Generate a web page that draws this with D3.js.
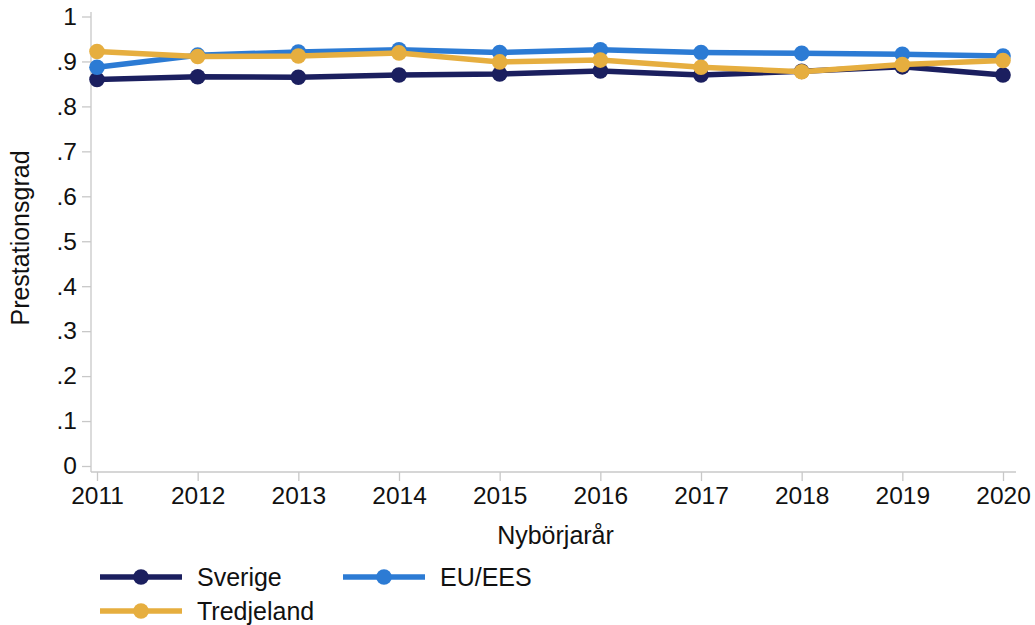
<!DOCTYPE html>
<html>
<head>
<meta charset="utf-8">
<script src="https://cdn.jsdelivr.net/npm/d3@7"></script>
<style>
    body { margin: 0; background: #fff; }
    text { font-family: "Liberation Sans", Arial, sans-serif; fill: #111; }
    .axis path, .axis line { stroke: #c8c8c8; stroke-width: 1.3; }
    .axis text { font-size: 24.5px; }
    .axisLabel { font-size: 25px; }
    .legendLabel { font-size: 25px; }
</style>
</head>
<body>
<div id="chart"></div>
<script>
//chart data
const years = [2011, 2012, 2013, 2014, 2015, 2016, 2017, 2018, 2019, 2020];
const sverige = [0.860, 0.866, 0.865, 0.870, 0.872, 0.879, 0.870, 0.878, 0.888, 0.870];
const euees = [0.887, 0.914, 0.921, 0.926, 0.920, 0.926, 0.920, 0.918, 0.916, 0.912];
const tredjeland = [0.922, 0.911, 0.912, 0.919, 0.899, 0.903, 0.887, 0.877, 0.893, 0.902];
const yTicks = [0, 0.1, 0.2, 0.3, 0.4, 0.5, 0.6, 0.7, 0.8, 0.9, 1];

const seriesNames = ["Sverige", "EU/EES", "Tredjeland"];
const seriesColors = ["#1b1f5f", "#2c7bd4", "#e6ae3f"];
const seriesValues = [sverige, euees, tredjeland];

const width = 1035;
const height = 625;

const svg = d3.select("#chart")
    .append("svg")
    .attr("width", width)
    .attr("height", height);

//scales
const xScale = d3.scaleLinear()
    .domain([2011, 2020])
    .range([97, 1003]);

const yScale = d3.scaleLinear()
    .domain([0, 1])
    .range([466, 16.5]);

//axes
const plotLeft = 91, plotRight = 1016, plotTop = 12, plotBottom = 472;

svg.append("line")
    .attr("x1", plotLeft).attr("x2", plotLeft)
    .attr("y1", plotTop).attr("y2", plotBottom)
    .attr("stroke", "#c8c8c8").attr("stroke-width", 1.3);

svg.append("line")
    .attr("x1", plotLeft).attr("x2", plotRight)
    .attr("y1", plotBottom).attr("y2", plotBottom)
    .attr("stroke", "#c8c8c8").attr("stroke-width", 1.3);

const xAxis = svg.append("g")
    .attr("class", "axis")
    .attr("transform", `translate(0,${plotBottom})`)
    .call(d3.axisBottom(xScale).tickValues(years).tickFormat(d3.format("d")).tickSize(9).tickPadding(6));
xAxis.select(".domain").remove();

const yAxis = svg.append("g")
    .attr("class", "axis")
    .attr("transform", `translate(${plotLeft},0)`)
    .call(d3.axisLeft(yScale).tickValues(yTicks)
        .tickFormat(d => d === 0 ? "0" : d === 1 ? "1" : d3.format(".1f")(d).replace(/^0/, ""))
        .tickSize(9).tickPadding(5));
yAxis.select(".domain").remove();

//axis titles
svg.append("text")
    .attr("class", "axisLabel")
    .attr("x", (plotLeft + plotRight) / 2 + 2)
    .attr("y", 544)
    .attr("text-anchor", "middle")
    .text("Nybörjarår");

svg.append("text")
    .attr("class", "axisLabel")
    .attr("transform", "rotate(-90)")
    .attr("x", -238)
    .attr("y", 29)
    .attr("text-anchor", "middle")
    .text("Prestationsgrad");

//lines and markers
const line = d3.line()
    .x((d, i) => xScale(years[i]))
    .y(d => yScale(d));

seriesValues.forEach((vals, s) => {
    const g = svg.append("g");
    g.append("path")
        .datum(vals)
        .attr("fill", "none")
        .attr("stroke", seriesColors[s])
        .attr("stroke-width", 5.5)
        .attr("d", line);
    g.selectAll("circle")
        .data(vals)
        .enter()
        .append("circle")
        .attr("cx", (d, i) => xScale(years[i]))
        .attr("cy", d => yScale(d))
        .attr("r", 7.8)
        .attr("fill", seriesColors[s]);
});

//legend
const legendItems = [
    { name: seriesNames[0], color: seriesColors[0], x: 100, y: 577 },
    { name: seriesNames[1], color: seriesColors[1], x: 343, y: 577 },
    { name: seriesNames[2], color: seriesColors[2], x: 100, y: 611 }
];

const legend = svg.selectAll(".legendItem")
    .data(legendItems)
    .enter()
    .append("g")
    .attr("class", "legendItem")
    .attr("transform", d => `translate(${d.x},${d.y})`);

legend.append("line")
    .attr("x1", 0).attr("x2", 82)
    .attr("stroke", d => d.color)
    .attr("stroke-width", 5.5);

legend.append("circle")
    .attr("cx", 41)
    .attr("r", 7.8)
    .attr("fill", d => d.color);

legend.append("text")
    .attr("class", "legendLabel")
    .attr("x", 97)
    .attr("y", 9)
    .text(d => d.name);
</script>
</body>
</html>
